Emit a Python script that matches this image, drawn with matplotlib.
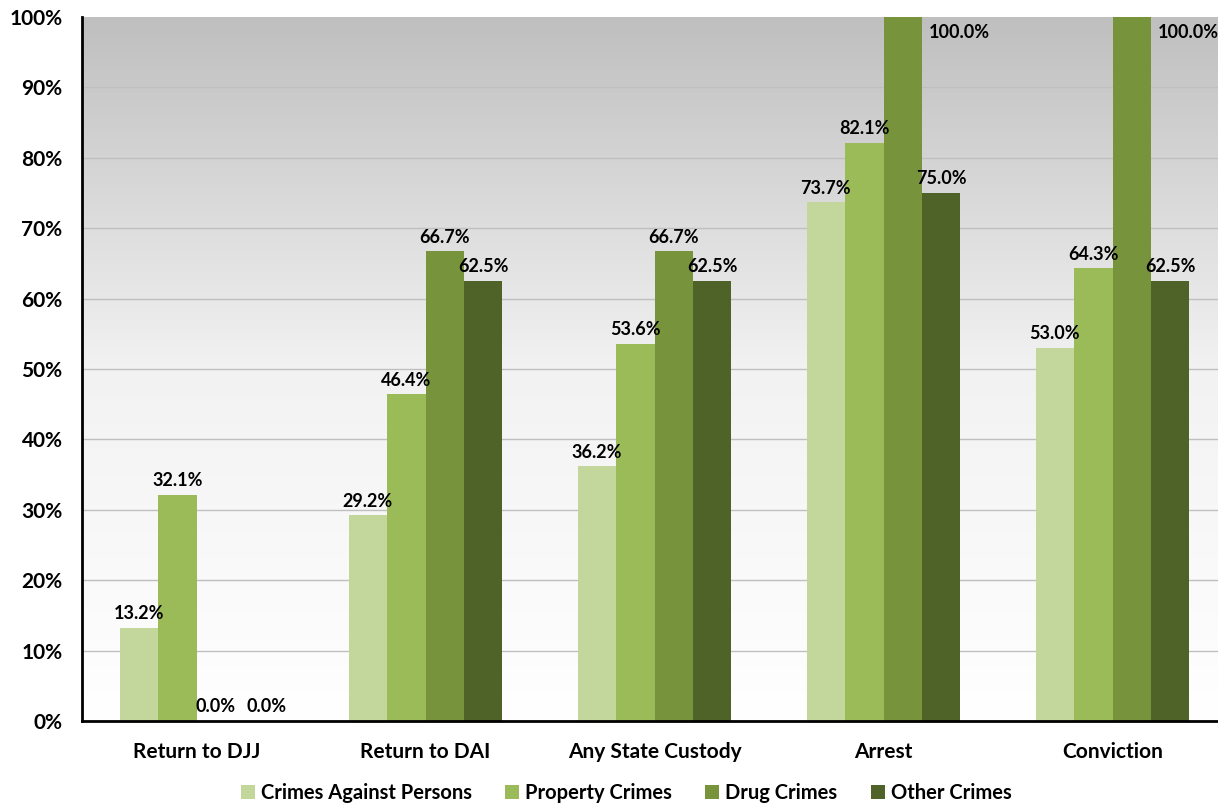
import numpy as np
import matplotlib.pyplot as plt
from matplotlib.colors import LinearSegmentedColormap
from matplotlib.ticker import PercentFormatter

plt.rcParams['font.family'] = ['Lato', 'DejaVu Sans']
plt.rcParams['font.weight'] = 'bold'

# data
categories = ['Return to DJJ', 'Return to DAI', 'Any State Custody', 'Arrest', 'Conviction']
series_names = ['Crimes Against Persons', 'Property Crimes', 'Drug Crimes', 'Other Crimes']
persons = [13.2, 29.2, 36.2, 73.7, 53.0]
property_ = [32.1, 46.4, 53.6, 82.1, 64.3]
drug = [0.0, 66.7, 66.7, 100.0, 100.0]
other = [0.0, 62.5, 62.5, 75.0, 62.5]
colors = ['#C3D69B', '#9BBB59', '#77933C', '#4F6228']

fig = plt.figure(figsize=(12.18, 8.06), dpi=100)
ax = fig.add_axes([82 / 1218, 1 - 721 / 806, 1 - 82 / 1218, (721 - 17) / 806])

x = np.arange(len(categories))
width = 0.168
ymax = 100

# gradient background
grad = np.linspace(0, 1, 256).reshape(-1, 1)
cmap = LinearSegmentedColormap.from_list('g', ['#FFFFFF', '#F2F2F2', '#BFBFBF'])
ax.imshow(grad, extent=[-0.5, 4.5, 0, ymax], aspect='auto', origin='lower', cmap=cmap, zorder=0)

all_series = [persons, property_, drug, other]
for i, (vals, name, c) in enumerate(zip(all_series, series_names, colors)):
    pos = x + (i - 1.5) * width
    ax.bar(pos, vals, width, color=c, label=name, zorder=2)
    for j, (p, v) in enumerate(zip(pos, vals)):
        if v >= 99.9:
            ax.text(p + width / 2 + 0.03, 97.8, f'{v:.1f}%', ha='left', va='center',
                    fontsize=13, fontweight='bold', zorder=3)
        else:
            # nudge a zero label sitting right next to another zero label
            dx = 0.055 if (v == 0 and i > 0 and all_series[i - 1][j] == 0) else 0
            ax.text(p + dx, v + 0.8, f'{v:.1f}%', ha='center', va='bottom',
                    fontsize=13, fontweight='bold', zorder=3)

ax.set_xlim(-0.5, 4.5 - 9 / 229)
ax.set_ylim(0, ymax)
ax.set_yticks(np.arange(0, 101, 10))
ax.yaxis.set_major_formatter(PercentFormatter(decimals=0))
ax.set_xticks(x)
ax.set_xticklabels(categories)
ax.tick_params(axis='both', length=0, labelsize=15)
ax.tick_params(axis='x', pad=15)
ax.tick_params(axis='y', pad=14)
ax.grid(axis='y', color='#BFBFBF', linewidth=1, zorder=1)
for s in ['top', 'right']:
    ax.spines[s].set_visible(False)
for s in ['left', 'bottom']:
    ax.spines[s].set_linewidth(2)
    ax.spines[s].set_zorder(4)

ax.legend(loc='center', bbox_to_anchor=(0.5 - 0.021, -0.102), ncol=4, frameon=False,
          fontsize=14.5, handlelength=0.7, handleheight=0.7, handletextpad=0.3, columnspacing=1.65)

fig.savefig('out.png', dpi=100)
